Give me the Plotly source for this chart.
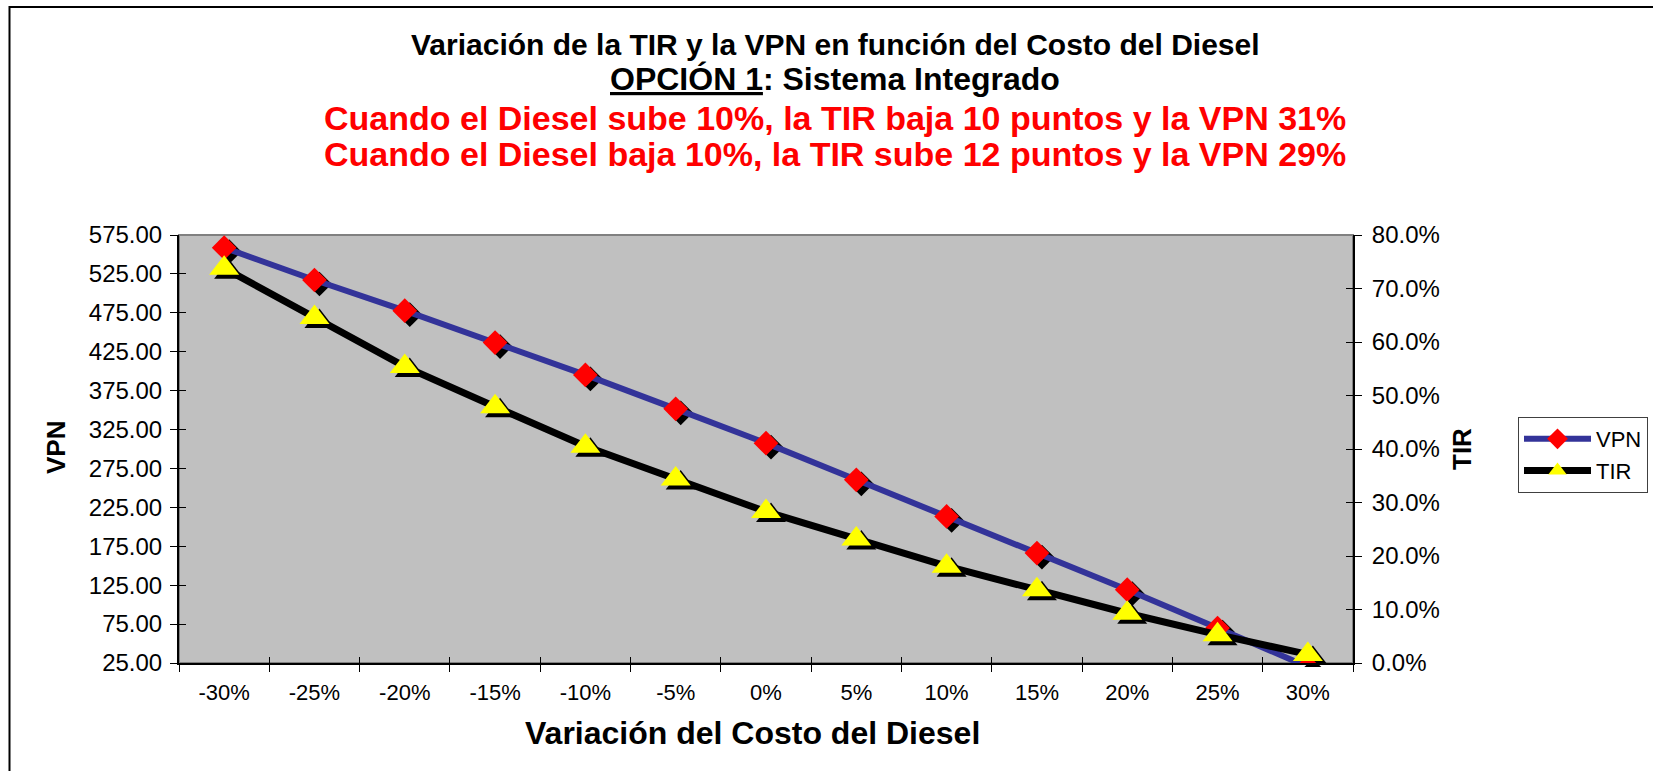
import plotly.graph_objects as go

# ---------------- data ----------------
categories = ["-30%", "-25%", "-20%", "-15%", "-10%", "-5%", "0%",
              "5%", "10%", "15%", "20%", "25%", "30%"]
vpn_values = [558.7, 517.2, 477.8, 436.7, 395.2, 351.6, 307.5,
              260.4, 213.3, 166.2, 119.2, 70.0, 20.0]
tir_values = [0.738, 0.646, 0.554, 0.479, 0.405, 0.344, 0.283,
              0.232, 0.181, 0.137, 0.093, 0.053, 0.016]

vpn_ticks = [25 + 50 * i for i in range(12)]
tir_ticks = [0.1 * i for i in range(9)]

title_1 = "Variación de la TIR y la VPN en función del Costo del Diesel"
title_2a = "OPCIÓN 1"
title_2b = ": Sistema Integrado"
title_3 = "Cuando el Diesel sube 10%, la TIR baja 10 puntos y la VPN 31%"
title_4 = "Cuando el Diesel baja 10%, la TIR sube 12 puntos y la VPN 29%"
x_title = "Variación del Costo del Diesel"
y1_title = "VPN"
y2_title = "TIR"

# ---------------- layout geometry (pixels) ----------------
W, H = 1653, 771
L, R, T, B = 179, 1353, 235, 663      # plot area
DX, DY = 5, 4                          # marker shadow offset


def px(x):
    return x / W


def py(y):
    return 1 - y / H


FONT = "Liberation Sans, Arial, sans-serif"
BLUE = "#333399"
NCAT = len(categories)

fig = go.Figure()

# ---- shadows (drawn first, on shifted hidden axes) ----
fig.add_trace(go.Scatter(
    x=categories, y=vpn_values, mode="markers", xaxis="x", yaxis="y",
    marker=dict(symbol="diamond", size=19, color="black", line=dict(width=0)),
    showlegend=False, hoverinfo="skip", cliponaxis=True))
fig.add_trace(go.Scatter(
    x=categories, y=tir_values, mode="markers", xaxis="x", yaxis="y2",
    marker=dict(symbol="triangle-up", size=26, color="black", line=dict(width=0)),
    showlegend=False, hoverinfo="skip", cliponaxis=False))

# ---- main series ----
fig.add_trace(go.Scatter(
    x=categories, y=vpn_values, mode="lines+markers", name="VPN",
    xaxis="x2", yaxis="y3",
    line=dict(color=BLUE, width=6),
    marker=dict(symbol="diamond", size=19, color="#FF0000", line=dict(width=0)),
    cliponaxis=True))
fig.add_trace(go.Scatter(
    x=categories, y=tir_values, mode="lines+markers", name="TIR",
    xaxis="x2", yaxis="y4",
    line=dict(color="black", width=7),
    marker=dict(symbol="triangle-up", size=26, color="#FFFF00", line=dict(width=0)),
    cliponaxis=False))

# ---- empty traces that only carry the inner halves of the tick marks ----
for xa, ya in (("x2", "y5"), ("x2", "y6"), ("x3", "y3")):
    fig.add_trace(go.Scatter(x=[], y=[], xaxis=xa, yaxis=ya,
                             showlegend=False, hoverinfo="skip"))

hidden = dict(visible=False, showgrid=False, zeroline=False,
              fixedrange=True, automargin=False)
tickbase = dict(tickcolor="black", tickwidth=1, showgrid=False,
                zeroline=False, automargin=False)

fig.update_layout(
    width=W, height=H,
    margin=dict(l=0, r=0, t=0, b=0, autoexpand=False),
    paper_bgcolor="white",
    plot_bgcolor="rgba(0,0,0,0)",
    font=dict(family=FONT, color="black"),
    xaxis=dict(domain=[px(L + DX), px(R + DX)], type="category",
               categoryorder="array", categoryarray=categories,
               range=[-0.5, NCAT - 0.5], anchor="y", **hidden),
    yaxis=dict(domain=[py(B + DY), py(T + DY)], range=[25, 575],
               anchor="x", **hidden),
    yaxis2=dict(range=[0, 0.8], overlaying="y", side="right",
                anchor="x", **hidden),
    xaxis2=dict(domain=[px(L), px(R)], type="category",
                categoryorder="array", categoryarray=categories,
                range=[-0.5, NCAT - 0.5], anchor="y3",
                tickson="boundaries", ticks="outside", ticklen=7,
                showline=True, linecolor="black", linewidth=2,
                tickfont=dict(size=22, family=FONT),
                ticklabelstandoff=9, **tickbase),
    xaxis3=dict(range=[-0.5, NCAT - 0.5], overlaying="x2", anchor="y3",
                side="bottom", tickmode="linear", tick0=-0.5, dtick=1,
                ticks="inside", ticklen=6, showticklabels=False,
                showline=False, **tickbase),
    yaxis3=dict(domain=[py(B), py(T)], range=[25, 575],
                tickmode="array", tickvals=vpn_ticks,
                tickformat=".2f", anchor="x2", side="left",
                ticks="outside", ticklen=7,
                showline=True, linecolor="black", linewidth=2,
                tickfont=dict(size=24, family=FONT),
                ticklabelstandoff=3, **tickbase),
    yaxis4=dict(range=[0, 0.8], overlaying="y3", side="right", anchor="x2",
                tickmode="array", tickvals=tir_ticks, tickformat=".1%",
                ticks="outside", ticklen=7,
                showline=True, linecolor="black", linewidth=2,
                tickfont=dict(size=24, family=FONT),
                ticklabelstandoff=5, **tickbase),
    yaxis5=dict(range=[25, 575], overlaying="y3", side="left", anchor="x2",
                tickmode="array", tickvals=vpn_ticks, ticks="inside",
                ticklen=7, showticklabels=False, showline=False, **tickbase),
    yaxis6=dict(range=[0, 0.8], overlaying="y3", side="right", anchor="x2",
                tickmode="array", tickvals=tir_ticks, ticks="inside",
                ticklen=7, showticklabels=False, showline=False, **tickbase),
    legend=dict(x=px(1518), y=py(417), xanchor="left", yanchor="top",
                bgcolor="white", bordercolor="#404040", borderwidth=1,
                font=dict(size=22, family=FONT), tracegroupgap=0,
                itemwidth=67),
    showlegend=True,
)

# plot-area background, and outer chart frame
fig.add_shape(type="rect", xref="paper", yref="paper",
              x0=px(L), x1=px(R), y0=py(B), y1=py(T),
              fillcolor="#C0C0C0", line=dict(color="#808080", width=2),
              layer="below")
fig.add_shape(type="rect", xref="paper", yref="paper",
              x0=px(9.5), x1=px(1700), y0=py(820), y1=py(7),
              fillcolor="rgba(0,0,0,0)", line=dict(color="black", width=2),
              layer="below")

ann = []
ann.append(dict(text="<b>" + title_1 + "</b>", x=px(835), y=py(44),
                font=dict(size=30, color="black", family=FONT)))
ann.append(dict(text="<b><u>" + title_2a + "</u>" + title_2b + "</b>",
                x=px(835), y=py(79),
                font=dict(size=32, color="black", family=FONT)))
ann.append(dict(text="<b>" + title_3 + "</b>", x=px(835), y=py(118),
                font=dict(size=34, color="#FF0000", family=FONT)))
ann.append(dict(text="<b>" + title_4 + "</b>", x=px(835), y=py(154),
                font=dict(size=34, color="#FF0000", family=FONT)))
ann.append(dict(text="<b>" + x_title + "</b>", x=px(752), y=py(733),
                font=dict(size=32, color="black", family=FONT)))
ann.append(dict(text="<b>" + y1_title + "</b>", x=px(56), y=py(448),
                textangle=-90, font=dict(size=26, color="black", family=FONT)))
ann.append(dict(text="<b>" + y2_title + "</b>", x=px(1462), y=py(449),
                textangle=-90, font=dict(size=26, color="black", family=FONT)))
for a in ann:
    a.update(xref="paper", yref="paper", showarrow=False,
             xanchor="center", yanchor="middle")
fig.update_layout(annotations=ann)

fig.write_html("out.html",
               config={"displayModeBar": False},
               post_script="document.body.style.margin='0px';"
                           "document.body.style.overflow='hidden';")
